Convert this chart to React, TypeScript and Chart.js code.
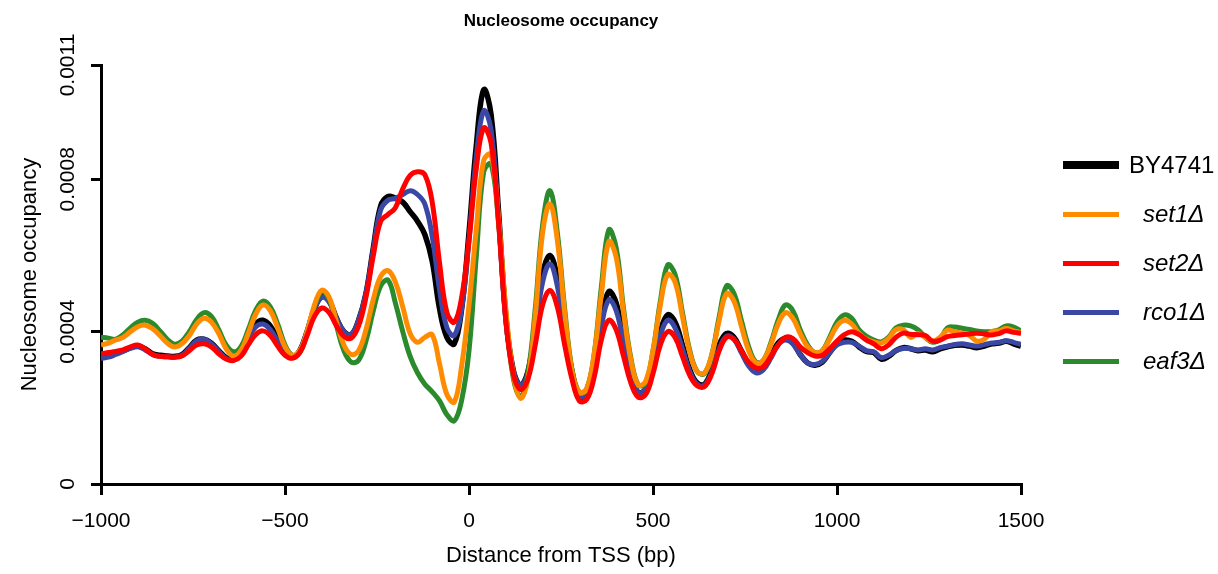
import React, { useEffect, useRef } from 'react';
import { Chart, registerables } from 'chart.js';

Chart.register(...registerables);

// Distance from TSS (bp), sampling grid
const positions = [
  -1000, -980, -960, -940, -920, -900, -880, -860, -840, -820,
  -800, -780, -760, -740, -720, -700, -680, -660, -640, -620,
  -600, -580, -560, -540, -520, -500, -480, -460, -440, -420,
  -400, -380, -360, -340, -320, -300, -280, -260, -240, -220,
  -200, -180, -160, -140, -120, -100, -80, -60, -40, -20,
  0, 20, 40, 60, 80, 100, 120, 140, 160, 180,
  200, 220, 240, 260, 280, 300, 320, 340, 360, 380,
  400, 420, 440, 460, 480, 500, 520, 540, 560, 580,
  600, 620, 640, 660, 680, 700, 720, 740, 760, 780,
  800, 820, 840, 860, 880, 900, 920, 940, 960, 980,
  1000, 1020, 1040, 1060, 1080, 1100, 1120, 1140, 1160, 1180,
  1200, 1220, 1240, 1260, 1280, 1300, 1320, 1340, 1360, 1380,
  1400, 1420, 1440, 1460, 1480, 1500,
];

const by4741 = [
  3.36e-4, 3.40e-4, 3.45e-4, 3.50e-4, 3.58e-4, 3.62e-4, 3.55e-4, 3.42e-4, 3.38e-4, 3.36e-4,
  3.35e-4, 3.40e-4, 3.58e-4, 3.78e-4, 3.80e-4, 3.70e-4, 3.50e-4, 3.32e-4, 3.28e-4, 3.45e-4,
  3.85e-4, 4.20e-4, 4.30e-4, 4.15e-4, 3.80e-4, 3.45e-4, 3.34e-4, 3.50e-4, 4.00e-4, 4.60e-4,
  4.92e-4, 4.80e-4, 4.35e-4, 4.00e-4, 3.92e-4, 4.30e-4, 5.00e-4, 6.20e-4, 7.30e-4, 7.55e-4,
  7.50e-4, 7.40e-4, 7.15e-4, 6.90e-4, 6.55e-4, 5.85e-4, 4.60e-4, 3.85e-4, 3.68e-4, 4.60e-4,
  6.60e-4, 8.90e-4, 10.35e-4, 9.70e-4, 7.20e-4, 4.40e-4, 3.00e-4, 2.60e-4, 2.95e-4, 4.10e-4,
  5.50e-4, 6.00e-4, 5.40e-4, 4.10e-4, 2.95e-4, 2.30e-4, 2.35e-4, 3.00e-4, 4.30e-4, 5.05e-4,
  4.75e-4, 3.80e-4, 2.90e-4, 2.40e-4, 2.50e-4, 3.10e-4, 4.00e-4, 4.44e-4, 4.25e-4, 3.65e-4,
  3.00e-4, 2.65e-4, 2.62e-4, 3.00e-4, 3.65e-4, 3.95e-4, 3.85e-4, 3.50e-4, 3.15e-4, 2.98e-4,
  3.05e-4, 3.35e-4, 3.70e-4, 3.82e-4, 3.70e-4, 3.40e-4, 3.18e-4, 3.12e-4, 3.20e-4, 3.45e-4,
  3.70e-4, 3.78e-4, 3.75e-4, 3.60e-4, 3.48e-4, 3.45e-4, 3.28e-4, 3.35e-4, 3.50e-4, 3.58e-4,
  3.55e-4, 3.50e-4, 3.52e-4, 3.47e-4, 3.55e-4, 3.60e-4, 3.64e-4, 3.65e-4, 3.62e-4, 3.58e-4,
  3.62e-4, 3.68e-4, 3.70e-4, 3.75e-4, 3.68e-4, 3.62e-4,
];

const set1 = [
  3.65e-4, 3.70e-4, 3.78e-4, 3.85e-4, 4.00e-4, 4.13e-4, 4.17e-4, 4.08e-4, 3.90e-4, 3.70e-4,
  3.60e-4, 3.68e-4, 3.90e-4, 4.20e-4, 4.35e-4, 4.25e-4, 3.95e-4, 3.55e-4, 3.36e-4, 3.50e-4,
  3.95e-4, 4.45e-4, 4.70e-4, 4.55e-4, 4.10e-4, 3.60e-4, 3.38e-4, 3.50e-4, 4.00e-4, 4.70e-4,
  5.09e-4, 4.90e-4, 4.25e-4, 3.65e-4, 3.40e-4, 3.50e-4, 4.05e-4, 4.85e-4, 5.45e-4, 5.60e-4,
  5.30e-4, 4.65e-4, 3.95e-4, 3.72e-4, 3.85e-4, 3.92e-4, 3.15e-4, 2.35e-4, 2.15e-4, 3.10e-4,
  4.70e-4, 6.70e-4, 8.50e-4, 8.65e-4, 7.00e-4, 4.60e-4, 2.90e-4, 2.25e-4, 2.75e-4, 4.40e-4,
  6.60e-4, 7.35e-4, 6.40e-4, 4.50e-4, 2.95e-4, 2.40e-4, 2.50e-4, 3.40e-4, 5.00e-4, 6.36e-4,
  5.95e-4, 4.50e-4, 3.25e-4, 2.60e-4, 2.70e-4, 3.50e-4, 4.70e-4, 5.50e-4, 5.30e-4, 4.40e-4,
  3.45e-4, 2.95e-4, 2.92e-4, 3.40e-4, 4.30e-4, 5.00e-4, 4.80e-4, 4.15e-4, 3.50e-4, 3.18e-4,
  3.25e-4, 3.65e-4, 4.20e-4, 4.50e-4, 4.35e-4, 3.95e-4, 3.60e-4, 3.45e-4, 3.50e-4, 3.80e-4,
  4.15e-4, 4.30e-4, 4.20e-4, 3.95e-4, 3.80e-4, 3.73e-4, 3.70e-4, 3.82e-4, 4.05e-4, 4.05e-4,
  3.85e-4, 3.95e-4, 3.85e-4, 3.75e-4, 3.85e-4, 4.04e-4, 4.00e-4, 3.96e-4, 3.90e-4, 3.75e-4,
  3.80e-4, 4.00e-4, 4.02e-4, 4.08e-4, 4.02e-4, 3.98e-4,
];

const set2 = [
  3.42e-4, 3.45e-4, 3.48e-4, 3.52e-4, 3.60e-4, 3.65e-4, 3.55e-4, 3.40e-4, 3.35e-4, 3.34e-4,
  3.33e-4, 3.36e-4, 3.50e-4, 3.65e-4, 3.68e-4, 3.60e-4, 3.42e-4, 3.28e-4, 3.24e-4, 3.35e-4,
  3.65e-4, 3.92e-4, 4.02e-4, 3.90e-4, 3.62e-4, 3.38e-4, 3.30e-4, 3.45e-4, 3.90e-4, 4.40e-4,
  4.62e-4, 4.50e-4, 4.15e-4, 3.88e-4, 3.83e-4, 4.15e-4, 4.90e-4, 6.00e-4, 6.90e-4, 7.08e-4,
  7.25e-4, 7.75e-4, 8.10e-4, 8.20e-4, 8.12e-4, 7.40e-4, 5.80e-4, 4.50e-4, 4.25e-4, 4.90e-4,
  6.40e-4, 8.30e-4, 9.35e-4, 8.95e-4, 6.90e-4, 4.30e-4, 2.90e-4, 2.48e-4, 2.75e-4, 3.65e-4,
  4.70e-4, 5.08e-4, 4.65e-4, 3.65e-4, 2.75e-4, 2.18e-4, 2.22e-4, 2.80e-4, 3.80e-4, 4.30e-4,
  4.05e-4, 3.35e-4, 2.65e-4, 2.28e-4, 2.35e-4, 2.90e-4, 3.65e-4, 4.00e-4, 3.85e-4, 3.35e-4,
  2.85e-4, 2.58e-4, 2.56e-4, 2.90e-4, 3.50e-4, 3.85e-4, 3.80e-4, 3.50e-4, 3.20e-4, 3.05e-4,
  3.08e-4, 3.35e-4, 3.65e-4, 3.85e-4, 3.82e-4, 3.60e-4, 3.45e-4, 3.36e-4, 3.38e-4, 3.55e-4,
  3.75e-4, 3.92e-4, 4.00e-4, 3.92e-4, 3.78e-4, 3.68e-4, 3.55e-4, 3.65e-4, 3.85e-4, 3.96e-4,
  3.93e-4, 3.92e-4, 3.90e-4, 3.75e-4, 3.78e-4, 3.87e-4, 3.90e-4, 3.92e-4, 3.94e-4, 3.96e-4,
  3.94e-4, 3.91e-4, 3.95e-4, 4.02e-4, 3.98e-4, 3.96e-4,
];

const rco1 = [
  3.30e-4, 3.33e-4, 3.40e-4, 3.48e-4, 3.56e-4, 3.60e-4, 3.52e-4, 3.40e-4, 3.35e-4, 3.34e-4,
  3.33e-4, 3.38e-4, 3.56e-4, 3.76e-4, 3.80e-4, 3.68e-4, 3.48e-4, 3.30e-4, 3.26e-4, 3.42e-4,
  3.80e-4, 4.12e-4, 4.20e-4, 4.05e-4, 3.75e-4, 3.42e-4, 3.32e-4, 3.50e-4, 4.00e-4, 4.60e-4,
  4.90e-4, 4.78e-4, 4.35e-4, 4.00e-4, 3.92e-4, 4.30e-4, 5.00e-4, 6.15e-4, 7.20e-4, 7.45e-4,
  7.50e-4, 7.60e-4, 7.70e-4, 7.60e-4, 7.35e-4, 6.50e-4, 5.10e-4, 4.10e-4, 3.90e-4, 4.60e-4,
  6.40e-4, 8.60e-4, 9.80e-4, 9.30e-4, 7.00e-4, 4.30e-4, 3.00e-4, 2.60e-4, 2.90e-4, 4.00e-4,
  5.30e-4, 5.78e-4, 5.20e-4, 3.95e-4, 2.90e-4, 2.30e-4, 2.35e-4, 2.95e-4, 4.15e-4, 4.83e-4,
  4.55e-4, 3.70e-4, 2.85e-4, 2.40e-4, 2.50e-4, 3.05e-4, 3.90e-4, 4.30e-4, 4.10e-4, 3.55e-4,
  2.95e-4, 2.62e-4, 2.60e-4, 2.95e-4, 3.55e-4, 3.88e-4, 3.80e-4, 3.45e-4, 3.10e-4, 2.92e-4,
  3.00e-4, 3.30e-4, 3.65e-4, 3.78e-4, 3.68e-4, 3.40e-4, 3.18e-4, 3.14e-4, 3.22e-4, 3.45e-4,
  3.65e-4, 3.72e-4, 3.72e-4, 3.62e-4, 3.50e-4, 3.47e-4, 3.32e-4, 3.38e-4, 3.50e-4, 3.56e-4,
  3.55e-4, 3.52e-4, 3.55e-4, 3.52e-4, 3.58e-4, 3.62e-4, 3.66e-4, 3.68e-4, 3.65e-4, 3.62e-4,
  3.66e-4, 3.70e-4, 3.72e-4, 3.76e-4, 3.72e-4, 3.66e-4,
];

const eaf3 = [
  3.85e-4, 3.83e-4, 3.80e-4, 3.92e-4, 4.10e-4, 4.25e-4, 4.30e-4, 4.22e-4, 4.02e-4, 3.80e-4,
  3.67e-4, 3.75e-4, 4.00e-4, 4.32e-4, 4.50e-4, 4.40e-4, 4.05e-4, 3.65e-4, 3.47e-4, 3.60e-4,
  4.05e-4, 4.55e-4, 4.80e-4, 4.65e-4, 4.20e-4, 3.65e-4, 3.38e-4, 3.45e-4, 3.95e-4, 4.65e-4,
  5.05e-4, 4.85e-4, 4.15e-4, 3.50e-4, 3.20e-4, 3.25e-4, 3.75e-4, 4.55e-4, 5.20e-4, 5.35e-4,
  4.75e-4, 4.00e-4, 3.35e-4, 2.92e-4, 2.62e-4, 2.42e-4, 2.18e-4, 1.82e-4, 1.66e-4, 2.20e-4,
  3.50e-4, 6.00e-4, 8.20e-4, 8.40e-4, 6.90e-4, 4.50e-4, 2.80e-4, 2.30e-4, 2.90e-4, 4.60e-4,
  6.80e-4, 7.70e-4, 6.60e-4, 4.60e-4, 3.00e-4, 2.40e-4, 2.50e-4, 3.40e-4, 5.20e-4, 6.67e-4,
  6.20e-4, 4.60e-4, 3.30e-4, 2.60e-4, 2.65e-4, 3.50e-4, 4.80e-4, 5.75e-4, 5.50e-4, 4.50e-4,
  3.50e-4, 2.95e-4, 2.90e-4, 3.40e-4, 4.40e-4, 5.20e-4, 5.00e-4, 4.30e-4, 3.60e-4, 3.20e-4,
  3.25e-4, 3.70e-4, 4.30e-4, 4.70e-4, 4.55e-4, 4.05e-4, 3.65e-4, 3.45e-4, 3.50e-4, 3.85e-4,
  4.25e-4, 4.44e-4, 4.35e-4, 4.05e-4, 3.88e-4, 3.78e-4, 3.73e-4, 3.85e-4, 4.10e-4, 4.17e-4,
  4.15e-4, 4.05e-4, 3.85e-4, 3.72e-4, 3.80e-4, 4.10e-4, 4.12e-4, 4.09e-4, 4.06e-4, 4.02e-4,
  4.00e-4, 4.00e-4, 4.05e-4, 4.15e-4, 4.12e-4, 4.02e-4,
];

const seriesLabels = ['BY4741', 'set1Δ', 'set2Δ', 'rco1Δ', 'eaf3Δ'];
const seriesColors = ['#000000', '#FF8C00', '#FF0000', '#3B47A4', '#2B8A2B'];
const seriesItalic = [false, true, true, true, true];
const drawOrder = [4, 1, 0, 3, 2];

const xTicks = [-1000, -500, 0, 500, 1000, 1500];
const xTickLabels = ['\u22121000', '\u2212500', '0', '500', '1000', '1500'];
const yTicks = [0, 0.0004, 0.0008, 0.0011];
const yTickLabels = ['0', '0.0004', '0.0008', '0.0011'];

const FONT = "'Liberation Sans', Arial, Helvetica, sans-serif";

export default function App() {
  const canvasRef = useRef<HTMLCanvasElement>(null);

  useEffect(() => {
    const seriesValues = [by4741, set1, set2, rco1, eaf3];
    const chart = new Chart(canvasRef.current as HTMLCanvasElement, {
      type: 'line',
      data: {
        datasets: seriesLabels.map((label, i) => ({
          label,
          data: positions.map((x, j) => ({ x, y: seriesValues[i][j] })),
          borderColor: seriesColors[i],
          backgroundColor: seriesColors[i],
          borderWidth: i === 0 ? 5.5 : 5,
          pointRadius: 0,
          tension: 0.4,
          fill: false,
          order: drawOrder[i],
        })),
      },
      options: {
        animation: false,
        responsive: false,
        maintainAspectRatio: false,
        layout: { padding: { left: 0, right: 197, top: 0, bottom: 0 } },
        plugins: {
          legend: { display: false },
          tooltip: { enabled: false },
          title: {
            display: true,
            text: 'Nucleosome occupancy',
            fullSize: false,
            color: '#000',
            font: { family: FONT, size: 17, weight: 'bold' },
            padding: { top: 11, bottom: 33.6 },
          },
        },
        scales: {
          x: {
            type: 'linear',
            min: -1000,
            max: 1500,
            afterBuildTicks: (s: any) => {
              s.ticks = xTicks.map((v) => ({ value: v }));
            },
            afterFit: (s: any) => {
              s.height = 90;
            },
            border: { color: '#000', width: 3 },
            grid: { drawOnChartArea: false, color: '#000', lineWidth: 3, tickLength: 11 },
            ticks: {
              color: '#000',
              font: { family: FONT, size: 21 },
              padding: 14,
              maxRotation: 0,
              autoSkip: false,
              callback: (_v: any, i: number) => xTickLabels[i],
            },
            title: {
              display: true,
              text: 'Distance from TSS (bp)',
              color: '#000',
              font: { family: FONT, size: 22 },
              padding: { top: 0, bottom: 5 },
            },
          },
          y: {
            type: 'linear',
            min: 0,
            max: 0.0011,
            afterBuildTicks: (s: any) => {
              s.ticks = yTicks.map((v) => ({ value: v }));
            },
            afterFit: (s: any) => {
              s.width = 101;
            },
            border: { color: '#000', width: 3 },
            grid: { drawOnChartArea: false, color: '#000', lineWidth: 3, tickLength: 10 },
            ticks: {
              color: '#000',
              font: { family: FONT, size: 21 },
              minRotation: 90,
              maxRotation: 90,
              crossAlign: 'center',
              padding: -9,
              autoSkip: false,
              callback: (_v: any, i: number) => yTickLabels[i],
            },
            title: {
              display: true,
              text: 'Nucleosome occupancy',
              color: '#000',
              font: { family: FONT, size: 22 },
              padding: { top: 17, bottom: 0 },
            },
          },
        },
      } as any,
    });
    return () => chart.destroy();
  }, []);

  return (
    <div style={{ position: 'absolute', left: 0, top: 0, width: 1218, height: 574, background: '#fff' }}>
      <canvas ref={canvasRef} width={1218} height={574} style={{ display: 'block' }} />
      {seriesLabels.map((label, i) => (
        <div
          key={label}
          style={{
            position: 'absolute',
            left: 1063,
            top: 151 + i * 49,
            height: 28,
            display: 'flex',
            alignItems: 'center',
            fontFamily: FONT,
            fontSize: 24,
            color: '#000',
            whiteSpace: 'nowrap',
          }}
        >
          <span
            style={{
              display: 'inline-block',
              width: 56,
              height: i === 0 ? 8 : 5,
              background: seriesColors[i],
            }}
          />
          <span
            style={{
              marginLeft: seriesItalic[i] ? 24 : 10,
              fontStyle: seriesItalic[i] ? 'italic' : 'normal',
            }}
          >
            {label}
          </span>
        </div>
      ))}
    </div>
  );
}
